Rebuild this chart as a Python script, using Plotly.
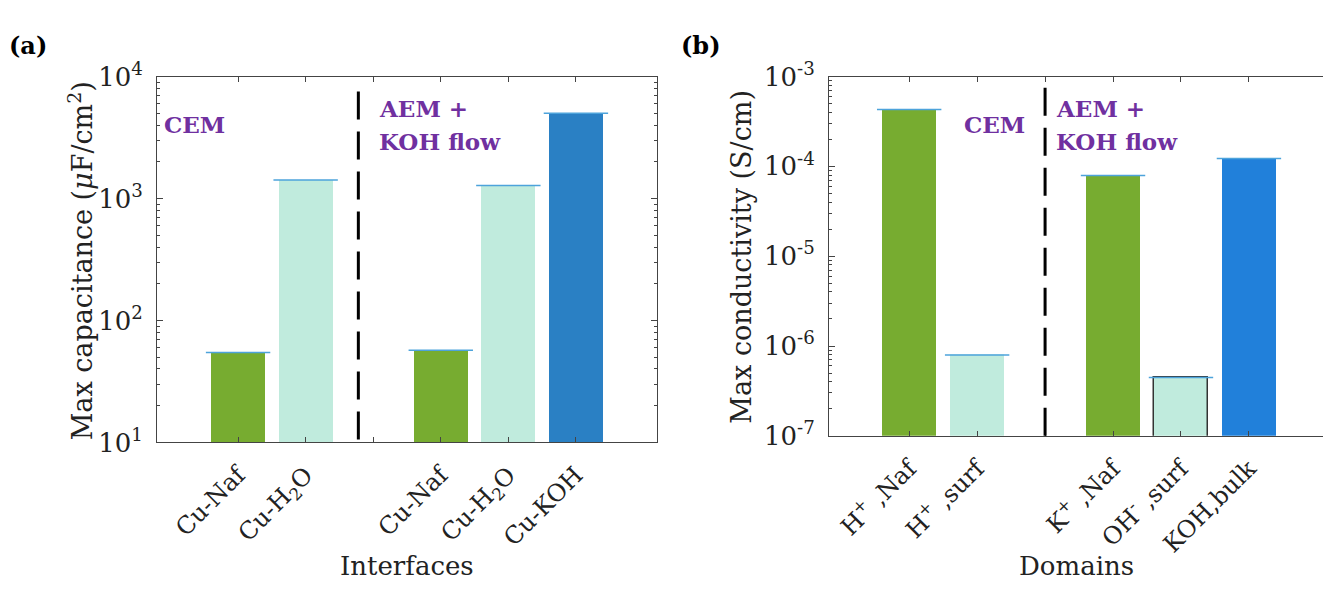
import plotly.graph_objects as go

# ---------------- data ----------------
interface_labels = ["Cu-Naf", "Cu-H<sub>2</sub>O", "", "Cu-Naf", "Cu-H<sub>2</sub>O", "Cu-KOH"]
interface_pos = [1, 2, 4, 5, 6]
capacitance = [54.5, 1420, 57, 1276, 5000]

domain_labels = ["H<sup>+</sup> ,Naf", "H<sup>+</sup> ,surf", "", "K<sup>+</sup> ,Naf", "OH<sup>-</sup> ,surf", "KOH,bulk"]
domain_pos = [1, 2, 4, 5, 6]
conductivity = [4.3e-4, 7.95e-7, 7.9e-5, 4.47e-7, 1.22e-4]

x_ticks = [1, 2, 3, 4, 5, 6]
cap_ticks = [1e1, 1e2, 1e3, 1e4]
cap_ticktext = ["10<sup>1</sup>", "10<sup>2</sup>", "10<sup>3</sup>", "10<sup>4</sup>"]
con_ticks = [1e-7, 1e-6, 1e-5, 1e-4, 1e-3]
con_ticktext = ["10<sup>-7</sup>", "10<sup>-6</sup>", "10<sup>-5</sup>", "10<sup>-4</sup>", "10<sup>-3</sup>"]

# ---------------- styles ----------------
GREEN = "#77AC30"
MINT = "#C0EBDD"
BLUE_A = "#2A80C4"
BLUE_B = "#2180DA"
TOPLINE = "#4DA3DB"
PURPLE = "#7030A0"
FONT = "DejaVu Serif"
TXT = "#222222"
W, H = 1323, 597

colors_a = [GREEN, MINT, GREEN, MINT, BLUE_A]
colors_b = [GREEN, MINT, GREEN, MINT, BLUE_B]
edge_w_b = [0, 0, 0, 1.5, 0]


def px(x, y):
    return x / W, 1 - y / H


fig = go.Figure()

fig.add_trace(go.Bar(x=interface_pos, y=capacitance, width=0.8,
                     marker=dict(color=colors_a, line=dict(width=0)),
                     xaxis="x", yaxis="y", showlegend=False))
fig.add_trace(go.Scatter(x=interface_pos, y=capacitance, mode="markers",
                         marker=dict(symbol="line-ew", size=46, line=dict(color=TOPLINE, width=1.5)),
                         xaxis="x", yaxis="y", showlegend=False, hoverinfo="skip"))

fig.add_trace(go.Bar(x=domain_pos, y=conductivity, width=0.8,
                     marker=dict(color=colors_b, line=dict(width=edge_w_b, color="#333333")),
                     xaxis="x2", yaxis="y2", showlegend=False))
fig.add_trace(go.Scatter(x=domain_pos, y=conductivity, mode="markers",
                         marker=dict(symbol="line-ew", size=46, line=dict(color=TOPLINE, width=1.5)),
                         xaxis="x2", yaxis="y2", showlegend=False, hoverinfo="skip"))

line_common = dict(showline=True, linecolor="#444444", linewidth=1, ticks="inside",
                   tickcolor="#444444", showgrid=False, zeroline=False)

fig.update_layout(
    width=W, height=H,
    margin=dict(l=0, r=0, t=0, b=0),
    paper_bgcolor="white", plot_bgcolor="white",
    font=dict(family=FONT, color=TXT),
    bargap=0,
    xaxis=dict(domain=[157 / W, 657 / W], range=[-0.2, 7.2], anchor="y",
               tickmode="array", tickvals=x_ticks, ticktext=interface_labels,
               tickangle=-45, ticklen=5, mirror="ticks", ticklabelstandoff=8,
               tickfont=dict(family=FONT, size=24, color=TXT), **line_common),
    yaxis=dict(domain=[1 - 449 / H, 1 - 61 / H], type="log", range=[1, 4], anchor="x",
               tickmode="array", tickvals=cap_ticks, ticktext=cap_ticktext,
               ticklen=6, mirror="ticks", ticklabelstandoff=8,
               minor=dict(ticks="inside", ticklen=3, dtick="D1", tickcolor="#444444"),
               tickfont=dict(family=FONT, size=26, color=TXT), **line_common),
    xaxis2=dict(domain=[829 / W, 1.0], range=[-0.18, 7.09], anchor="y2",
                tickmode="array", tickvals=x_ticks, ticktext=domain_labels,
                tickangle=-45, ticklen=5, mirror="ticks", ticklabelstandoff=8,
                tickfont=dict(family=FONT, size=24, color=TXT), **line_common),
    yaxis2=dict(domain=[1 - 442 / H, 1 - 61 / H], type="log", range=[-7, -3], anchor="x2",
                tickmode="array", tickvals=con_ticks, ticktext=con_ticktext,
                ticklen=6, ticklabelstandoff=8,
                minor=dict(ticks="inside", ticklen=3, dtick="D1", tickcolor="#444444"),
                tickfont=dict(family=FONT, size=26, color=TXT), **line_common),
)

# dashed dividers
fig.add_shape(type="line", xref="x", yref="y domain", x0=2.78, x1=2.78, y0=0.008, y1=0.977,
              line=dict(color="black", width=3, dash="28px,12px"))
fig.add_shape(type="line", xref="x2", yref="y2 domain", x0=3, x1=3, y0=0.0, y1=1.0,
              line=dict(color="black", width=3, dash="28px,12px"))

ann = []


def text(x, y, s, size, bold=False, color=TXT, xanchor="center", angle=0):
    xx, yy = px(x, y)
    ann.append(dict(x=xx, y=yy, xref="paper", yref="paper", text=("<b>%s</b>" % s) if bold else s,
                    showarrow=False, xanchor=xanchor, yanchor="middle", textangle=angle,
                    font=dict(family=FONT, size=size, color=color)))


text(28, 28, "(a)", 24, bold=True, color="black")
text(701, 28, "(b)", 24, bold=True, color="black")
text(195, 112, "CEM", 23, bold=True, color=PURPLE)
text(377, 95, "AEM +", 23, bold=True, color=PURPLE, xanchor="left")
text(377, 130, "KOH flow", 23, bold=True, color=PURPLE, xanchor="left")
text(994, 112, "CEM", 23, bold=True, color=PURPLE)
text(1054, 95, "AEM +", 23, bold=True, color=PURPLE, xanchor="left")
text(1054, 130, "KOH flow", 23, bold=True, color=PURPLE, xanchor="left")
text(407, 580, "Interfaces", 26)
text(1076, 580, "Domains", 26)
text(80, 257, "Max capacitance (<i>μ</i>F/cm<sup>2</sup>)", 27, angle=-90)
text(742, 252, "Max conductivity (S/cm)", 27, angle=-90)

fig.update_layout(annotations=ann)

fig.write_html("out.html")
